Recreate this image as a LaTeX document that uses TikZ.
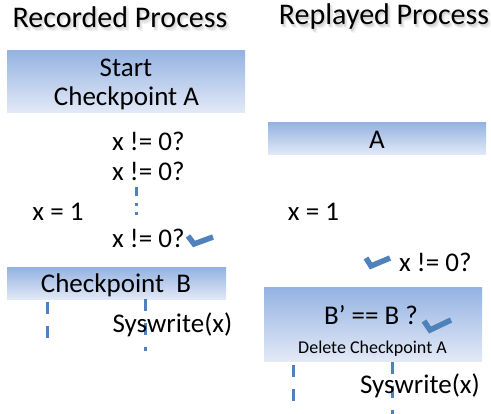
\documentclass[tikz,border=0pt]{standalone}
\usepackage{fontspec}
\setmainfont{Carlito}
\definecolor{boxtop}{RGB}{149,179,226}
\definecolor{boxbot}{RGB}{228,234,247}
\definecolor{markblue}{RGB}{79,129,189}
\newcommand\shadowed[1]{%
  \makebox[0pt][l]{\hspace{3pt}\raisebox{-4pt}[0pt][0pt]{\color{black!6}#1}}%
  \makebox[0pt][l]{\hspace{2.5pt}\raisebox{-2pt}[0pt][0pt]{\color{black!8}#1}}%
  \makebox[0pt][l]{\hspace{1.5pt}\raisebox{-3pt}[0pt][0pt]{\color{black!11}#1}}%
  \makebox[0pt][l]{\hspace{1pt}\raisebox{-1.5pt}[0pt][0pt]{\color{black!16}#1}}%
  #1}
\begin{document}
\begin{tikzpicture}[x=1pt,y=-1pt,
  body/.style={inner sep=0pt, font=\fontsize{27}{30}\selectfont},
  title/.style={inner sep=0pt, font=\fontsize{30}{34}\selectfont},
  small/.style={inner sep=0pt, font=\fontsize{18}{20}\selectfont},
  band/.style={top color=boxtop, bottom color=boxbot, draw=none},
  tick/.style={draw=markblue, line width=5.5pt, line join=miter},
  vdash/.style={draw=markblue, line width=3pt, dash pattern=on 12pt off 12pt}]
\useasboundingbox (0,0) rectangle (491,414);
% titles with soft shadow
\node[title] (t1) at (120,17) {\shadowed{Recorded Process}};
\node[title] (t2) at (384,17) {\shadowed{Replayed Process}};
% boxes
\path[band] (7,51) rectangle (245,113);
\node[body] (start) at (126,68) {Start};
\node[body] (cpa) at (126.5,98) {Checkpoint A};
\path[band] (268,123) rectangle (486,155);
\node[body] (a) at (377,140) {A};
\path[band] (7,268) rectangle (226,300);
\node[body] (cpb) at (116,285) {Checkpoint\ \ B};
\path[band] (264,288) rectangle (482,362);
\node[body] (bq) at (371,315) {B’ == B ?};
\node[small] (del) at (372.5,349) {Delete Checkpoint A};
% left column
\node[body,anchor=west] (c1) at (112,141) {x != 0?};
\node[body,anchor=west] (c2) at (112,171) {x != 0?};
\node[body,anchor=west] (c3) at (112,238) {x != 0?};
\node[body] (x1) at (58,212) {x = 1};
\draw[markblue, line width=3pt] (136,187) -- (136,196);
\draw[markblue, line width=3pt] (136,203) -- (136,206);
\draw[markblue, line width=3pt] (136,212) -- (136,215);
\draw[tick] (188,236) -- (194,244) -- (213,237);
\draw[vdash] (47,302) -- (47,340);
\draw[vdash] (145,299) -- (145,351);
\node[body] (sw1) at (172.5,325) {Syswrite(x)};
% right column
\node[body] (x2) at (313.5,212) {x = 1};
\draw[tick] (366,258) -- (371,266) -- (390,258);
\node[body,anchor=west] (c4) at (399,262) {x != 0?};
\draw[tick] (424,321) -- (430,330) -- (451,320);
\draw[vdash] (293,365) -- (293,401);
\draw[vdash] (392,362) -- (392,414);
\node[body] (sw2) at (420,386) {Syswrite(x)};
\end{tikzpicture}
\end{document}
